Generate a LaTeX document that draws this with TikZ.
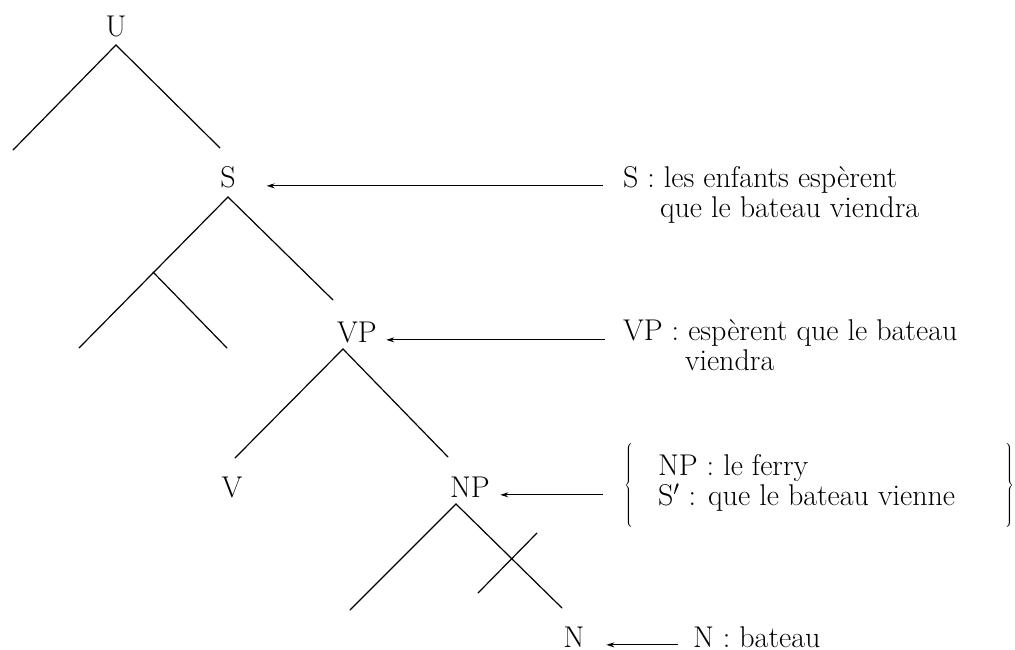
\documentclass[tikz,border=0pt]{standalone}
\usetikzlibrary{arrows.meta}
\begin{document}
\begin{tikzpicture}[x=1pt,y=-1pt,
  every node/.style={inner sep=0pt,outer sep=0pt,font=\fontsize{30}{36}\selectfont},
  tree/.style={anchor=base},
  lbl/.style={anchor=base west},
  edge/.style={line width=1.2pt,line cap=round},
  arr/.style={line width=0.9pt,-{Stealth[length=8pt,width=5pt]}}]
\useasboundingbox (0,0) rectangle (1015,650);
% tree labels
\node[tree] (U)  at (116,37) {U};
\node[tree] (S)  at (228,188) {S};
\node[tree] (VP) at (357,342) {VP};
\node[tree] (V)  at (232,497) {V};
\node[tree] (NP) at (470,497) {NP};
\node[tree] (N)  at (574,647) {N};
% apexes and leaf ends
\coordinate (Ua) at (116,45);
\coordinate (Ul) at (13,150);
\coordinate (Ur) at (220,148);
\coordinate (Sa) at (228,197);
\coordinate (Sl) at (79,348);
\coordinate (Sb) at (153,272);
\coordinate (Sbr) at (227,348);
\coordinate (Sr) at (333,300);
\coordinate (VPa) at (343,349);
\coordinate (VPl) at (235,458);
\coordinate (VPr) at (448,457);
\coordinate (NPa) at (456,504);
\coordinate (NPl) at (350,610);
\coordinate (NPr) at (562,608);
\coordinate (X1) at (478,593);
\coordinate (X2) at (537,533);
% tree edges
\draw[edge] (Ul) -- (Ua) -- (Ur);
\draw[edge] (Sl) -- (Sa) -- (Sr);
\draw[edge] (Sb) -- (Sbr);
\draw[edge] (VPl) -- (VPa) -- (VPr);
\draw[edge] (NPl) -- (NPa) -- (NPr);
\draw[edge] (X1) -- (X2);
% right-hand labels
\node[lbl] (lS1) at (623,187) {S : les enfants espèrent};
\node[lbl] (lS2) at (660,217) {que le bateau viendra};
\node[lbl] (lVP1) at (623,340) {VP : espèrent que le bateau};
\node[lbl] (lVP2) at (685,370) {viendra};
\node[anchor=west] (lNPb) at (624,485) {$\left\{\vrule height 50pt depth 35pt width 0pt\right.$};
\node[lbl] (lNP1) at (658,475) {NP : le ferry};
\node[lbl] (lNP2) at (658,505) {S$'$ : que le bateau vienne};
\node[anchor=east] (rNPb) at (1014,485) {$\left.\vrule height 50pt depth 35pt width 0pt\right\}$};
\node[lbl] (lN) at (693,647) {N : bateau};
% arrows
\draw[arr] ([xshift=-20pt]lS1.mid west |- S.mid east) -- ([xshift=31pt]S.mid east);
\draw[arr] ([xshift=-18pt]lVP1.mid west |- VP.mid east) -- ([xshift=9.5pt]VP.mid east);
\draw[arr] ([xshift=-21pt]lNPb.west |- NP.mid east) -- ([xshift=10.5pt]NP.mid east);
\draw[arr] ([xshift=-15pt]lN.mid west |- N.mid east) -- ([xshift=22pt]N.mid east);
\end{tikzpicture}
\end{document}
